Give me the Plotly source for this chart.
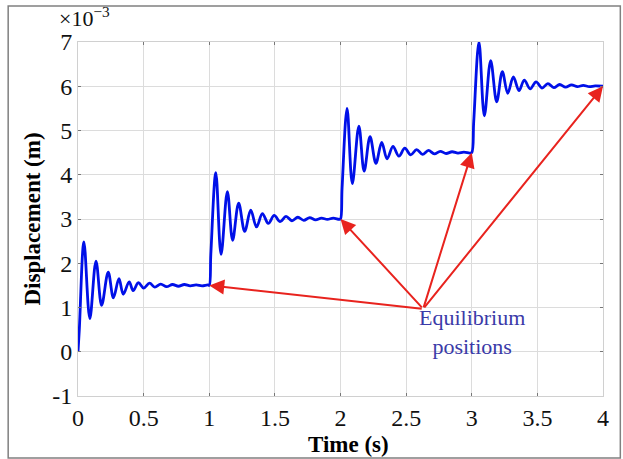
import plotly.graph_objects as go

# Step 1 (0 -> 1.5e-3)
t1 = [0.0, 0.01, 0.045, 0.09, 0.137, 0.18, 0.23, 0.27, 0.312, 0.345, 0.39, 0.42, 0.46, 0.50, 0.545,
      0.585, 0.63, 0.675, 0.72, 0.765, 0.81, 0.855, 0.90, 0.945, 0.99]
y1 = [0.0, 0.5, 2.48, 0.75, 2.05, 1.05, 1.80, 1.22, 1.65, 1.30, 1.58, 1.38, 1.56, 1.44, 1.55,
      1.46, 1.53, 1.47, 1.52, 1.48, 1.52, 1.49, 1.51, 1.49, 1.51]
# Step 2 (1.5e-3 -> 3.0e-3)
t2 = [1.0, 1.012, 1.05, 1.09, 1.138, 1.178, 1.224, 1.27, 1.316, 1.36, 1.405, 1.45, 1.495, 1.54, 1.585,
      1.63, 1.675, 1.72, 1.765, 1.81, 1.855, 1.90, 1.945, 1.99]
y2 = [1.5, 2.2, 4.05, 2.2, 3.62, 2.52, 3.36, 2.72, 3.2, 2.82, 3.12, 2.9, 3.08, 2.94, 3.06,
      2.96, 3.04, 2.97, 3.03, 2.98, 3.02, 2.99, 3.02, 2.99]
# Step 3 (3.0e-3 -> 4.5e-3)
t3 = [2.0, 2.012, 2.05, 2.09, 2.14, 2.18, 2.225, 2.27, 2.314, 2.355, 2.40, 2.445, 2.49, 2.535, 2.58,
      2.625, 2.67, 2.715, 2.76, 2.805, 2.85, 2.895, 2.94, 2.985]
y3 = [3.0, 3.7, 5.5, 3.8, 5.1, 4.08, 4.86, 4.26, 4.73, 4.36, 4.64, 4.42, 4.6, 4.45, 4.57,
      4.46, 4.55, 4.47, 4.53, 4.48, 4.52, 4.49, 4.51, 4.49]
# Step 4 (4.5e-3 -> 6.0e-3)
t4 = [3.0, 3.015, 3.055, 3.096, 3.144, 3.19, 3.233, 3.274, 3.317, 3.36, 3.40, 3.445, 3.49, 3.535, 3.58,
      3.625, 3.67, 3.715, 3.76, 3.805, 3.85, 3.895, 3.94, 4.0]
y4 = [4.5, 5.2, 7.0, 5.33, 6.58, 5.65, 6.33, 5.84, 6.21, 5.9, 6.14, 5.94, 6.1, 5.96, 6.06,
      5.97, 6.04, 5.98, 6.03, 5.99, 6.02, 5.99, 6.01, 6.0]

time_s = t1 + t2 + t3 + t4
disp = y1 + y2 + y3 + y4

eq_t = [1.0, 2.0, 3.0, 4.0]
eq_y = [1.5, 3.0, 4.5, 6.0]
label_t, label_y = 2.63, 0.97

x_ticks = [0, 0.5, 1, 1.5, 2, 2.5, 3, 3.5, 4]
x_tick_text = ["0", "0.5", "1", "1.5", "2", "2.5", "3", "3.5", "4"]
y_ticks = [-1, 0, 1, 2, 3, 4, 5, 6, 7]
y_tick_text = ["-1", "0", "1", "2", "3", "4", "5", "6", "7"]

SERIF = "'Liberation Serif', 'Times New Roman', Times, serif"

fig = go.Figure()
fig.add_trace(go.Scatter(x=time_s, y=disp, mode="lines",
                         line=dict(color="#0010e8", width=2.8, shape="spline", smoothing=1.0),
                         showlegend=False, hoverinfo="skip"))

annotations = []
for tx, ty in zip(eq_t, eq_y):
    annotations.append(dict(x=tx, y=ty, ax=label_t, ay=label_y, xref="x", yref="y",
                            axref="x", ayref="y", showarrow=True, arrowhead=2, arrowsize=1.5,
                            arrowwidth=2, arrowcolor="#e8231e", text=""))
annotations.append(dict(x=3.0, y=0.45, xref="x", yref="y", showarrow=False,
                        text="Equilibrium<br>positions",
                        font=dict(family=SERIF, size=22, color="#3a3aa8"), align="center"))
annotations.append(dict(x=-0.04, y=1.072, xref="paper", yref="paper", showarrow=False,
                        xanchor="left", yanchor="middle",
                        text="×10<sup>−3</sup>", font=dict(family=SERIF, size=22, color="#111")))
annotations.append(dict(x=0.516, y=-0.137, xref="paper", yref="paper", showarrow=False,
                        xanchor="center", yanchor="middle",
                        text="<b>Time (s)</b>", font=dict(family=SERIF, size=23, color="#000")))
fig.update_layout(annotations=annotations)

fig.add_shape(type="rect", xref="paper", yref="paper", x0=-0.133, x1=1.033, y0=-0.175, y1=1.102,
              line=dict(color="#808080", width=1.5), fillcolor="rgba(0,0,0,0)", layer="below")

axis_common = dict(showgrid=True, gridcolor="#dcdcdc", gridwidth=1, zeroline=False,
                   showline=True, linecolor="#d0d0d0", linewidth=1, mirror="ticks",
                   ticks="inside", ticklen=3, tickcolor="#777", tickwidth=1,
                   tickfont=dict(family=SERIF, size=24, color="#111"))

fig.update_xaxes(range=[0, 4], tickvals=x_ticks, ticktext=x_tick_text, **axis_common)
fig.update_yaxes(range=[-1, 7], tickvals=y_ticks, ticktext=y_tick_text,
                 title=dict(text="<b>Displacement (m)</b>", font=dict(family=SERIF, size=23, color="#000"),
                            standoff=5), **axis_common)

fig.update_layout(width=623, height=459, margin=dict(l=78, r=20, t=42, b=63),
                  paper_bgcolor="white", plot_bgcolor="white",
                  font=dict(family=SERIF))

fig.write_html("out.html")
